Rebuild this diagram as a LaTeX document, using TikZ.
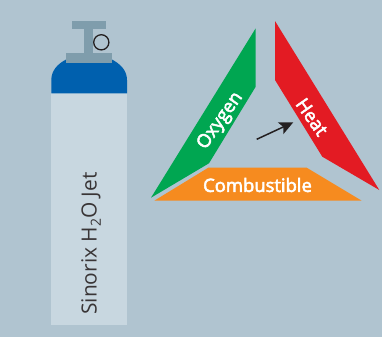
\documentclass[tikz,border=0pt]{standalone}
\usepackage{fontspec}
\setmainfont{Open Sans}
\newfontfamily\lblfont[FakeBold=3]{Open Sans}
\usetikzlibrary{arrows.meta}
\definecolor{bg}{HTML}{B0C4D0}
\definecolor{body}{HTML}{C8D7E0}
\definecolor{capblue}{HTML}{0060AE}
\definecolor{valve}{HTML}{7F9DAC}
\definecolor{oxy}{HTML}{00A651}
\definecolor{heat}{HTML}{E31B23}
\definecolor{comb}{HTML}{F68B1F}
\definecolor{ink}{HTML}{231F20}
\tikzset{
  lbl/.style={text=white,font=\lblfont\fontsize{18.5}{18.5}\selectfont,inner sep=0pt},
  cyl/.style={text=ink!90,font=\fontsize{21}{22}\selectfont,inner sep=0pt,rotate=90}
}
\begin{document}
\begin{tikzpicture}[x=1bp,y=-1bp]
\useasboundingbox (0,0) rectangle (382,337);
\fill[bg] (0,0) rectangle (382,337);
% cylinder
\fill[body] (51.3,93.3) rectangle (127,325);
\fill[capblue] (51.3,93.3) -- (51.3,80) .. controls (51.3,71) and (57,64) .. (67,59) -- (111,59) .. controls (121,64) and (127,71) .. (127,80) -- (127,93.3) -- cycle;
\fill[valve] (72,20.7) rectangle (106,29.3);
\fill[valve] (84.3,29) rectangle (93.3,53);
\fill[valve] (66,52.7) rectangle (112,62.7);
\draw[ink,line width=1.3] (101.3,42.3) circle (7.6);
\node[cyl] (cyl) at (91,243.5) {Sinorix H\raisebox{-0.2em}{\fontsize{14}{14}\selectfont 2}O Jet};
% triangle
\fill[oxy] (255.7,28.3) -- (255.7,86.7) -- (209,163.3) -- (151,197.7) -- cycle;
\fill[heat] (275,21) -- (275,80) -- (322.3,156.7) -- (379.3,190) -- cycle;
\fill[comb] (208.3,167.7) -- (306.7,167.7) -- (361.7,200.7) -- (154.3,200.7) -- cycle;
\node[lbl,rotate=55] (oxygen) at (220.5,121) {Oxygen};
\node[lbl,rotate=-55] (heatl) at (312,117) {Heat};
\node[lbl] (combl) at (257.5,185) {Combustible};
\coordinate (a) at (256.7,139.3);
\coordinate (b) at (293.3,122.3);
\draw[ink,line width=1.5,-{Stealth[length=14bp,width=13bp,inset=3bp]}] (a) -- (b);
\end{tikzpicture}
\end{document}
